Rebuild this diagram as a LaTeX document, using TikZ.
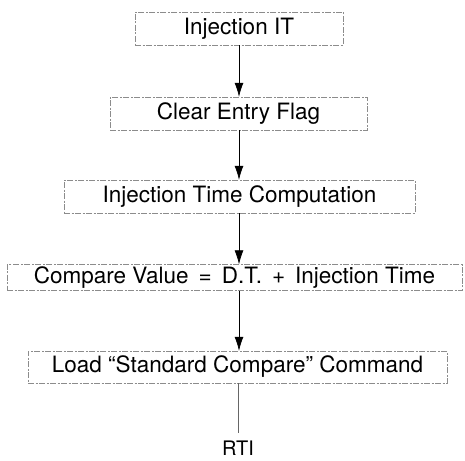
\documentclass[tikz,border=0pt]{standalone}
\usepackage{fontspec}
\setmainfont{TeX Gyre Heros}
\usetikzlibrary{arrows.meta}
\begin{document}
\begin{tikzpicture}[x=1pt,y=-1pt,
  box/.style={draw=black!45, line width=0.5pt, dash pattern=on 6pt off 1.5pt on 2pt off 1.5pt, inner sep=0pt, font=\fontsize{22.5}{24}\selectfont},
  flow/.style={-{Latex[length=14pt,width=9pt]}, line width=0.7pt},
  plain/.style={line width=0.7pt, draw=black!60}]
\useasboundingbox (0,0) rectangle (465,460);
\node[box, minimum width=208pt, minimum height=33pt] (b1) at (239,28.5) {Injection IT};
\node[box, minimum width=257pt, minimum height=33pt] (b2) at (238.5,113.5) {Clear Entry Flag};
\node[box, minimum width=351pt, minimum height=33pt] (b3) at (239.5,196.5) {Injection Time Computation};
\node[box, minimum width=455pt, minimum height=26pt] (b4) at (234.5,277.5) {Compare Value \,=\, D.T. \,+\, Injection Time};
\node[box, minimum width=419pt, minimum height=32pt] (b5) at (237.5,367) {Load “Standard Compare” Command};
\node[inner sep=0pt, font=\fontsize{20}{22}\selectfont, anchor=north] (rti) at (238,441) {RTI};
\coordinate (rtitop) at (238,433);
\draw[flow] (b1.south -| 239,0) -- (b2.north -| 239,0);
\draw[flow] (b2.south -| 239,0) -- (b3.north -| 239,0);
\draw[flow] (b3.south -| 239,0) -- (b4.north -| 239,0);
\draw[flow] (b4.south -| 239,0) -- (b5.north -| 239,0);
\draw[plain] (b5.south -| 238,0) -- (rtitop);
\end{tikzpicture}
\end{document}
